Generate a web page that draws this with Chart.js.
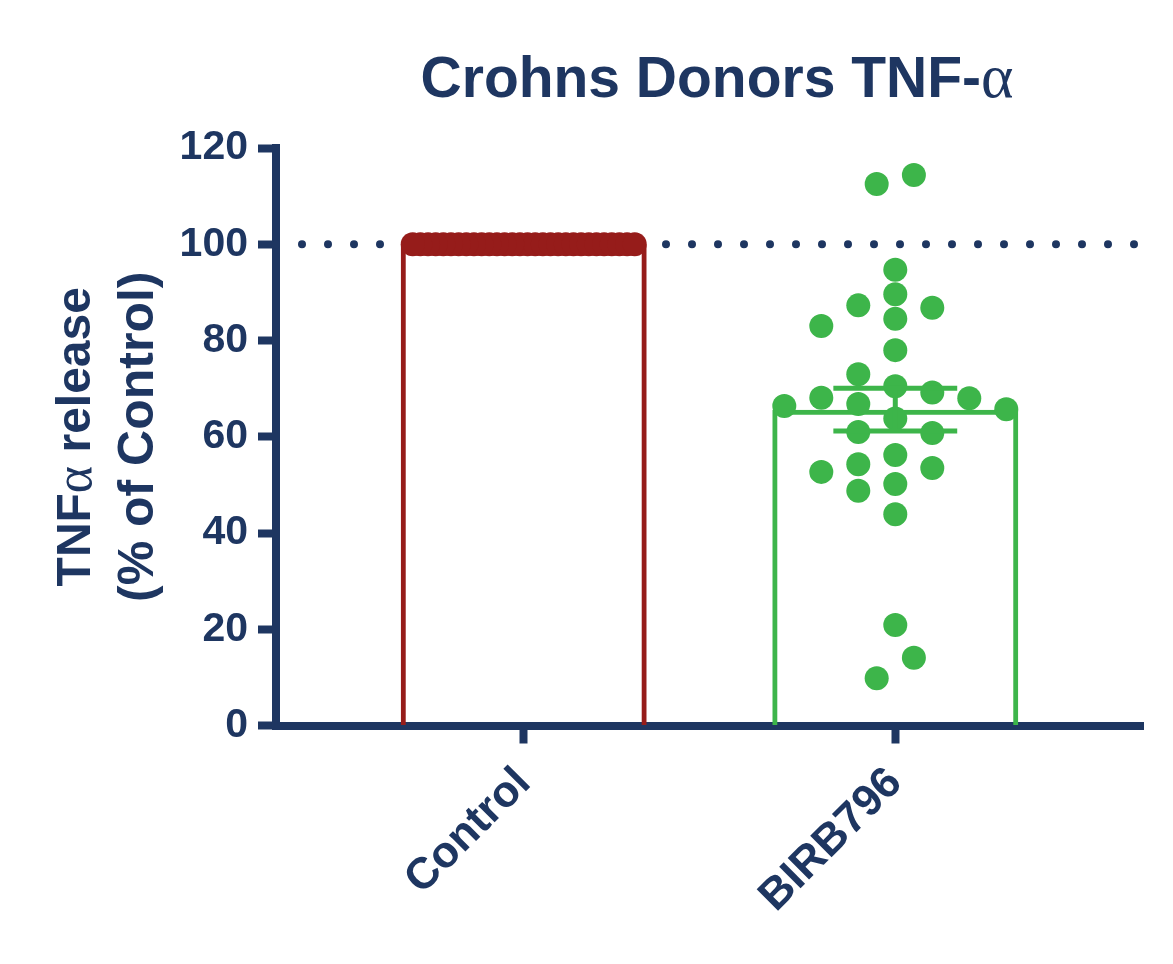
<!DOCTYPE html>
<html>
<head>
<meta charset="utf-8">
<script src="https://cdn.jsdelivr.net/npm/chart.js@4.4.1/dist/chart.umd.min.js"></script>
<style>
  html, body { margin: 0; padding: 0; background: #ffffff; }
  #wrap { width: 1173px; height: 964px; }
</style>
</head>
<body>
<div id="wrap"><canvas id="c" width="1173" height="964"></canvas></div>
<script>
// ---------------- data ----------------
const groupLabels = ['Control', 'BIRB796'];
const controlValues = [100, 100, 100, 100, 100, 100, 100, 100, 100, 100,
                       100, 100, 100, 100, 100, 100, 100, 100, 100, 100,
                       100, 100, 100, 100, 100, 100, 100, 100, 100, 100];
const birbValues = [114.4, 112.5, 94.7, 89.6, 87.3, 86.8, 84.5, 83.0, 78.0, 73.0,
                    70.5, 69.2, 68.1, 68.0, 66.8, 66.4, 65.7, 63.8, 61.0, 60.8,
                    56.2, 54.3, 53.5, 52.7, 50.2, 48.8, 43.9, 20.9, 14.1, 9.8];
const yTicks = [0, 20, 40, 60, 80, 100, 120];
const referenceLevel = 100;
const chartTitle = [['Crohns Donors TNF-', 'sans'], ['α', 'greek']];
const yTitleLines = [
  [['TNF', 'sans'], ['α', 'greek'], [' release', 'sans']],
  [['(% of Control)', 'sans']]
];

// ---------------- styling ----------------
const NAVY = '#1e3661';
const RED = '#961c1a';
const GREEN = '#3db54a';
const SANS = '"Liberation Sans", Arial, Helvetica, sans-serif';
const SERIF = '"Liberation Serif", "DejaVu Serif", serif';
const POINT_R = 12;

const mean = a => a.reduce((s, v) => s + v, 0) / a.length;
const sem = a => {
  const m = mean(a);
  const sd = Math.sqrt(a.reduce((s, v) => s + (v - m) * (v - m), 0) / (a.length - 1));
  return sd / Math.sqrt(a.length);
};
const groups = [controlValues, birbValues];
const groupColors = [RED, GREEN];

const X_MIN = -2 / 3, X_MAX = 5 / 3;

const errorBarPlugin = {
  id: 'errorBars',
  afterDatasetsDraw(chart) {
    const {ctx, scales: {x, y}} = chart;
    ctx.save();
    ctx.lineWidth = 5;
    ctx.lineCap = 'butt';
    groups.forEach((vals, i) => {
      const m = mean(vals), e = sem(vals);
      if (e === 0) return;
      const cx = x.getPixelForValue(i);
      const half = (x.getPixelForValue(i + 1 / 6) - cx);
      const yt = y.getPixelForValue(m + e), yb = y.getPixelForValue(m - e);
      ctx.strokeStyle = groupColors[i];
      ctx.beginPath();
      ctx.moveTo(cx, yt); ctx.lineTo(cx, yb);
      ctx.moveTo(cx - half, yt); ctx.lineTo(cx + half, yt);
      ctx.moveTo(cx - half, yb); ctx.lineTo(cx + half, yb);
      ctx.stroke();
    });
    ctx.restore();
  }
};

// draws text made of runs in two fonts (bold sans + serif greek letter)
function drawRuns(ctx, runs, size, cx, cy, rotation, baseline) {
  const fontFor = kind => kind === 'greek'
    ? `normal ${Math.round(size * 1.08)}px ${SERIF}`
    : `bold ${size}px ${SANS}`;
  ctx.save();
  ctx.translate(cx, cy);
  ctx.rotate(rotation);
  ctx.textBaseline = baseline;
  ctx.textAlign = 'left';
  ctx.fillStyle = NAVY;
  let total = 0;
  const widths = runs.map(([t, k]) => { ctx.font = fontFor(k); const w = ctx.measureText(t).width; total += w; return w; });
  let x = -total / 2;
  runs.forEach(([t, k], i) => { ctx.font = fontFor(k); ctx.fillText(t, x, 0); x += widths[i]; });
  ctx.restore();
}

const titlesPlugin = {
  id: 'titles',
  afterDraw(chart) {
    const {ctx, chartArea} = chart;
    drawRuns(ctx, chartTitle, 57, 717, 97, 0, 'alphabetic');
    const cy = (chartArea.top + chartArea.bottom) / 2;
    drawRuns(ctx, yTitleLines[0], 48, 77, cy, -Math.PI / 2, 'middle');
    drawRuns(ctx, yTitleLines[1], 50, 139, cy, -Math.PI / 2, 'middle');
  }
};

const chart = new Chart(document.getElementById('c'), {
  data: {
    datasets: [
      {
        type: 'scatter', label: groupLabels[0],
        data: controlValues.map(v => ({x: 0, y: v})),
        pointRadius: POINT_R, pointHoverRadius: POINT_R,
        backgroundColor: RED, borderWidth: 0
      },
      {
        type: 'scatter', label: groupLabels[1],
        data: birbValues.map(v => ({x: 1, y: v})),
        pointRadius: POINT_R, pointHoverRadius: POINT_R,
        backgroundColor: GREEN, borderWidth: 0
      },
      {
        type: 'bar', label: 'Mean',
        data: groups.map((g, i) => ({x: i, y: mean(g)})),
        backgroundColor: 'rgba(255,255,255,0)',
        borderColor: groupColors,
        borderWidth: 5,
        barPercentage: 0.662,
        categoryPercentage: 1
      },
      {
        type: 'line', label: 'Reference',
        data: [{x: X_MIN, y: referenceLevel}, {x: X_MAX, y: referenceLevel}],
        borderColor: NAVY, borderWidth: 8,
        borderDash: [0, 26], borderCapStyle: 'round',
        pointRadius: 0, fill: false, clip: false
      }
    ]
  },
  options: {
    responsive: false,
    animation: false,
    events: [],
    layout: { padding: { left: 0, right: 30, top: 148, bottom: 0 } },
    plugins: {
      legend: { display: false },
      tooltip: { enabled: false },
      title: { display: false }
    },
    scales: {
      x: {
        type: 'linear',
        position: 'bottom',
        offset: false,
        min: X_MIN, max: X_MAX,
        afterBuildTicks: s => { s.ticks = groupLabels.map((_, i) => ({value: i})); },
        afterFit: s => { s.height = 964 - 725.5; },
        ticks: {
          autoSkip: false, minRotation: 45, maxRotation: 45,
          color: NAVY, padding: 14,
          font: { family: SANS, size: 44, weight: 'bold' },
          callback: v => groupLabels[v]
        },
        grid: { offset: false, drawOnChartArea: false, drawTicks: true, tickLength: 18, tickWidth: 8, tickColor: NAVY },
        border: { display: true, width: 8, color: NAVY }
      },
      y: {
        type: 'linear',
        position: 'left',
        min: 0, max: 120,
        afterBuildTicks: s => { s.ticks = yTicks.map(v => ({value: v})); },
        afterFit: s => { s.width = 276; },
        ticks: {
          color: NAVY, padding: 10,
          font: { family: SANS, size: 41, weight: 'bold' }
        },
        grid: { drawOnChartArea: false, drawTicks: true, tickLength: 18, tickWidth: 8, tickColor: NAVY },
        border: { display: true, width: 8, color: NAVY },
        title: { display: false }
      }
    }
  },
  plugins: [errorBarPlugin, titlesPlugin]
});

// ---------- spread the points horizontally (beeswarm) ----------
function swarm(values, center, radius, maxHalfPx) {
  const xs = chart.scales.x, ys = chart.scales.y;
  const D = radius * 2 + 0.5;
  const colStep = radius * 3.1;
  const ypx = values.map(v => ys.getPixelForValue(v));
  const order = values.map((_, i) => i).sort((a, b) => values[b] - values[a]);
  const col = new Array(values.length);
  const placed = [];
  for (const i of order) {
    for (let s = 0; ; s++) {
      const k = s === 0 ? 0 : (s % 2 ? -(s + 1) / 2 : s / 2);
      if (!placed.some(j => col[j] === k && Math.abs(ypx[j] - ypx[i]) < D)) {
        col[i] = k; placed.push(i); break;
      }
    }
  }
  const clusters = [];
  let cur = [order[0]];
  for (let n = 1; n < order.length; n++) {
    if (Math.abs(ypx[order[n]] - ypx[order[n - 1]]) < D) cur.push(order[n]);
    else { clusters.push(cur); cur = [order[n]]; }
  }
  clusters.push(cur);
  const off = new Array(values.length);
  clusters.forEach(c => {
    const ks = c.map(i => col[i]);
    const lo = Math.min(...ks), hi = Math.max(...ks), mid = (lo + hi) / 2;
    const half = (hi - lo) / 2 * colStep;
    const step = half > maxHalfPx ? colStep * maxHalfPx / half : colStep;
    c.forEach(i => { off[i] = (col[i] - mid) * step; });
  });
  const c0 = xs.getPixelForValue(center);
  return values.map((v, i) => ({x: xs.getValueForPixel(c0 + off[i]), y: v}));
}

const barMeta = chart.getDatasetMeta(2);
groups.forEach((vals, i) => {
  const bw = barMeta.data[i].width;
  chart.data.datasets[i].data = swarm(vals, i, POINT_R, bw / 2 - POINT_R);
});
chart.update('none');
</script>
</body>
</html>
